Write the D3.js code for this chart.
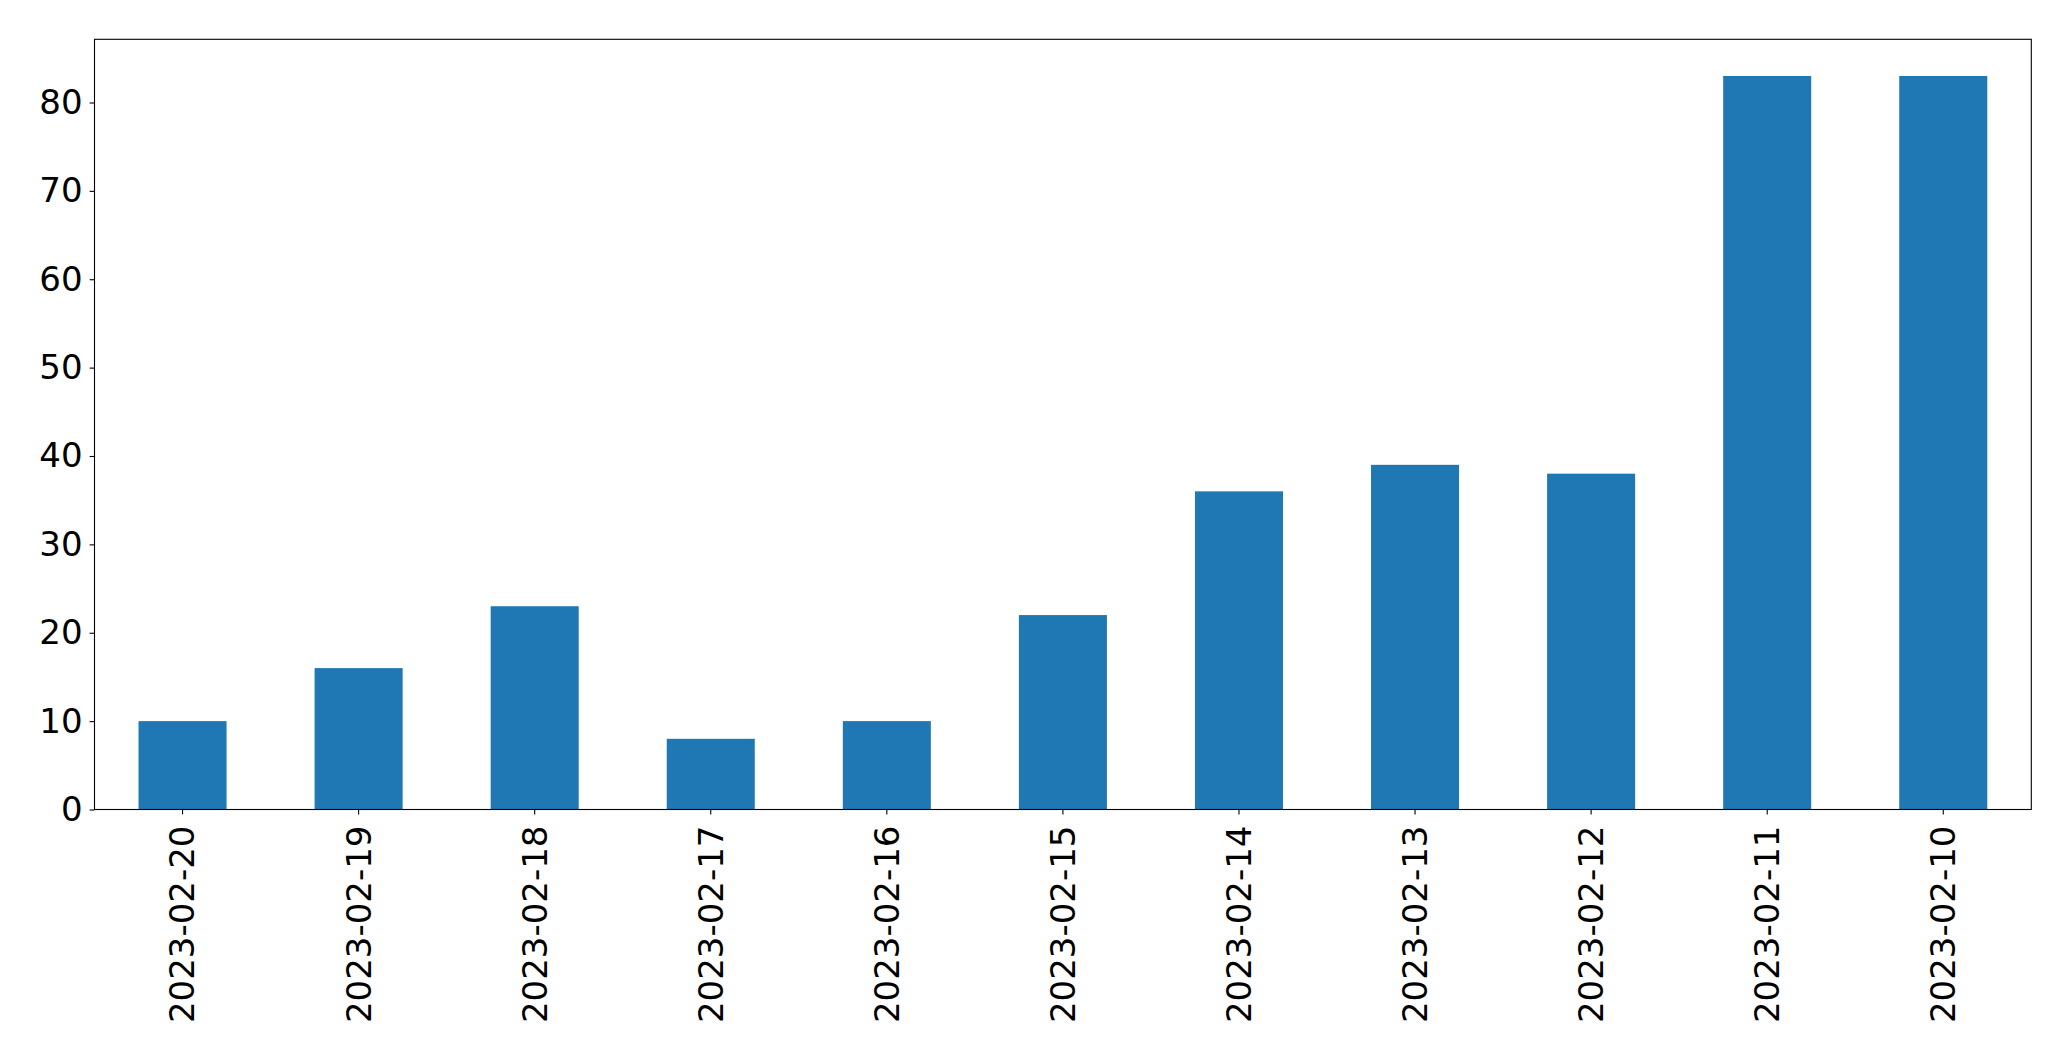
<!DOCTYPE html>
<html>
<head>
<meta charset="utf-8">
<script src="https://cdn.jsdelivr.net/npm/d3@7"></script>
<style>
  html, body { margin: 0; padding: 0; background: #fff; }
  svg { display: block; }
</style>
</head>
<body>
<script>
const categories = ["2023-02-20","2023-02-19","2023-02-18","2023-02-17","2023-02-16","2023-02-15","2023-02-14","2023-02-13","2023-02-12","2023-02-11","2023-02-10"];
const values = [10, 16, 23, 8, 10, 22, 36, 39, 38, 83, 83];
const yTicks = [0, 10, 20, 30, 40, 50, 60, 70, 80];

const W = 2071, H = 1061;
const margin = {left: 94.5, right: W - 2031.3, top: 39.3, bottom: H - 809.5};
const fontSize = 34;

const svg = d3.select("body").append("svg").attr("width", W).attr("height", H);

const x = d3.scaleBand().domain(categories)
  .range([margin.left, W - margin.right])
  .paddingInner(0.5).paddingOuter(0.25);
const y = d3.scaleLinear().domain([0, d3.max(values) * 1.05])
  .range([H - margin.bottom, margin.top]);

svg.append("g").selectAll("rect").data(values).join("rect")
  .attr("x", (d, i) => x(categories[i]))
  .attr("y", d => y(d))
  .attr("width", x.bandwidth())
  .attr("height", d => y(0) - y(d))
  .attr("fill", "#1f77b4");

const yAxis = svg.append("g")
  .attr("transform", `translate(${margin.left},0)`)
  .call(d3.axisLeft(y).tickValues(yTicks).tickSize(4.9).tickPadding(7).tickFormat(d3.format("d")));
yAxis.select(".domain").remove();
yAxis.selectAll("text").attr("font-family", "DejaVu Sans").attr("font-size", fontSize).attr("fill", "#000");
yAxis.selectAll("line").attr("stroke", "#000").attr("stroke-width", 1.1);

const xAxis = svg.append("g")
  .attr("transform", `translate(0,${H - margin.bottom})`)
  .call(d3.axisBottom(x).tickSize(4.9).tickPadding(0));
xAxis.select(".domain").remove();
xAxis.selectAll("line").attr("stroke", "#000").attr("stroke-width", 1.1);
xAxis.selectAll("text")
  .attr("font-family", "DejaVu Sans").attr("font-size", fontSize).attr("fill", "#000")
  .attr("transform", "translate(0,16) rotate(-90)")
  .attr("x", 0).attr("y", 0).attr("dy", "0.35em")
  .attr("text-anchor", "end");

svg.append("rect")
  .attr("x", margin.left).attr("y", margin.top)
  .attr("width", W - margin.right - margin.left)
  .attr("height", H - margin.bottom - margin.top)
  .attr("fill", "none").attr("stroke", "#000").attr("stroke-width", 1.1);
</script>
</body>
</html>
